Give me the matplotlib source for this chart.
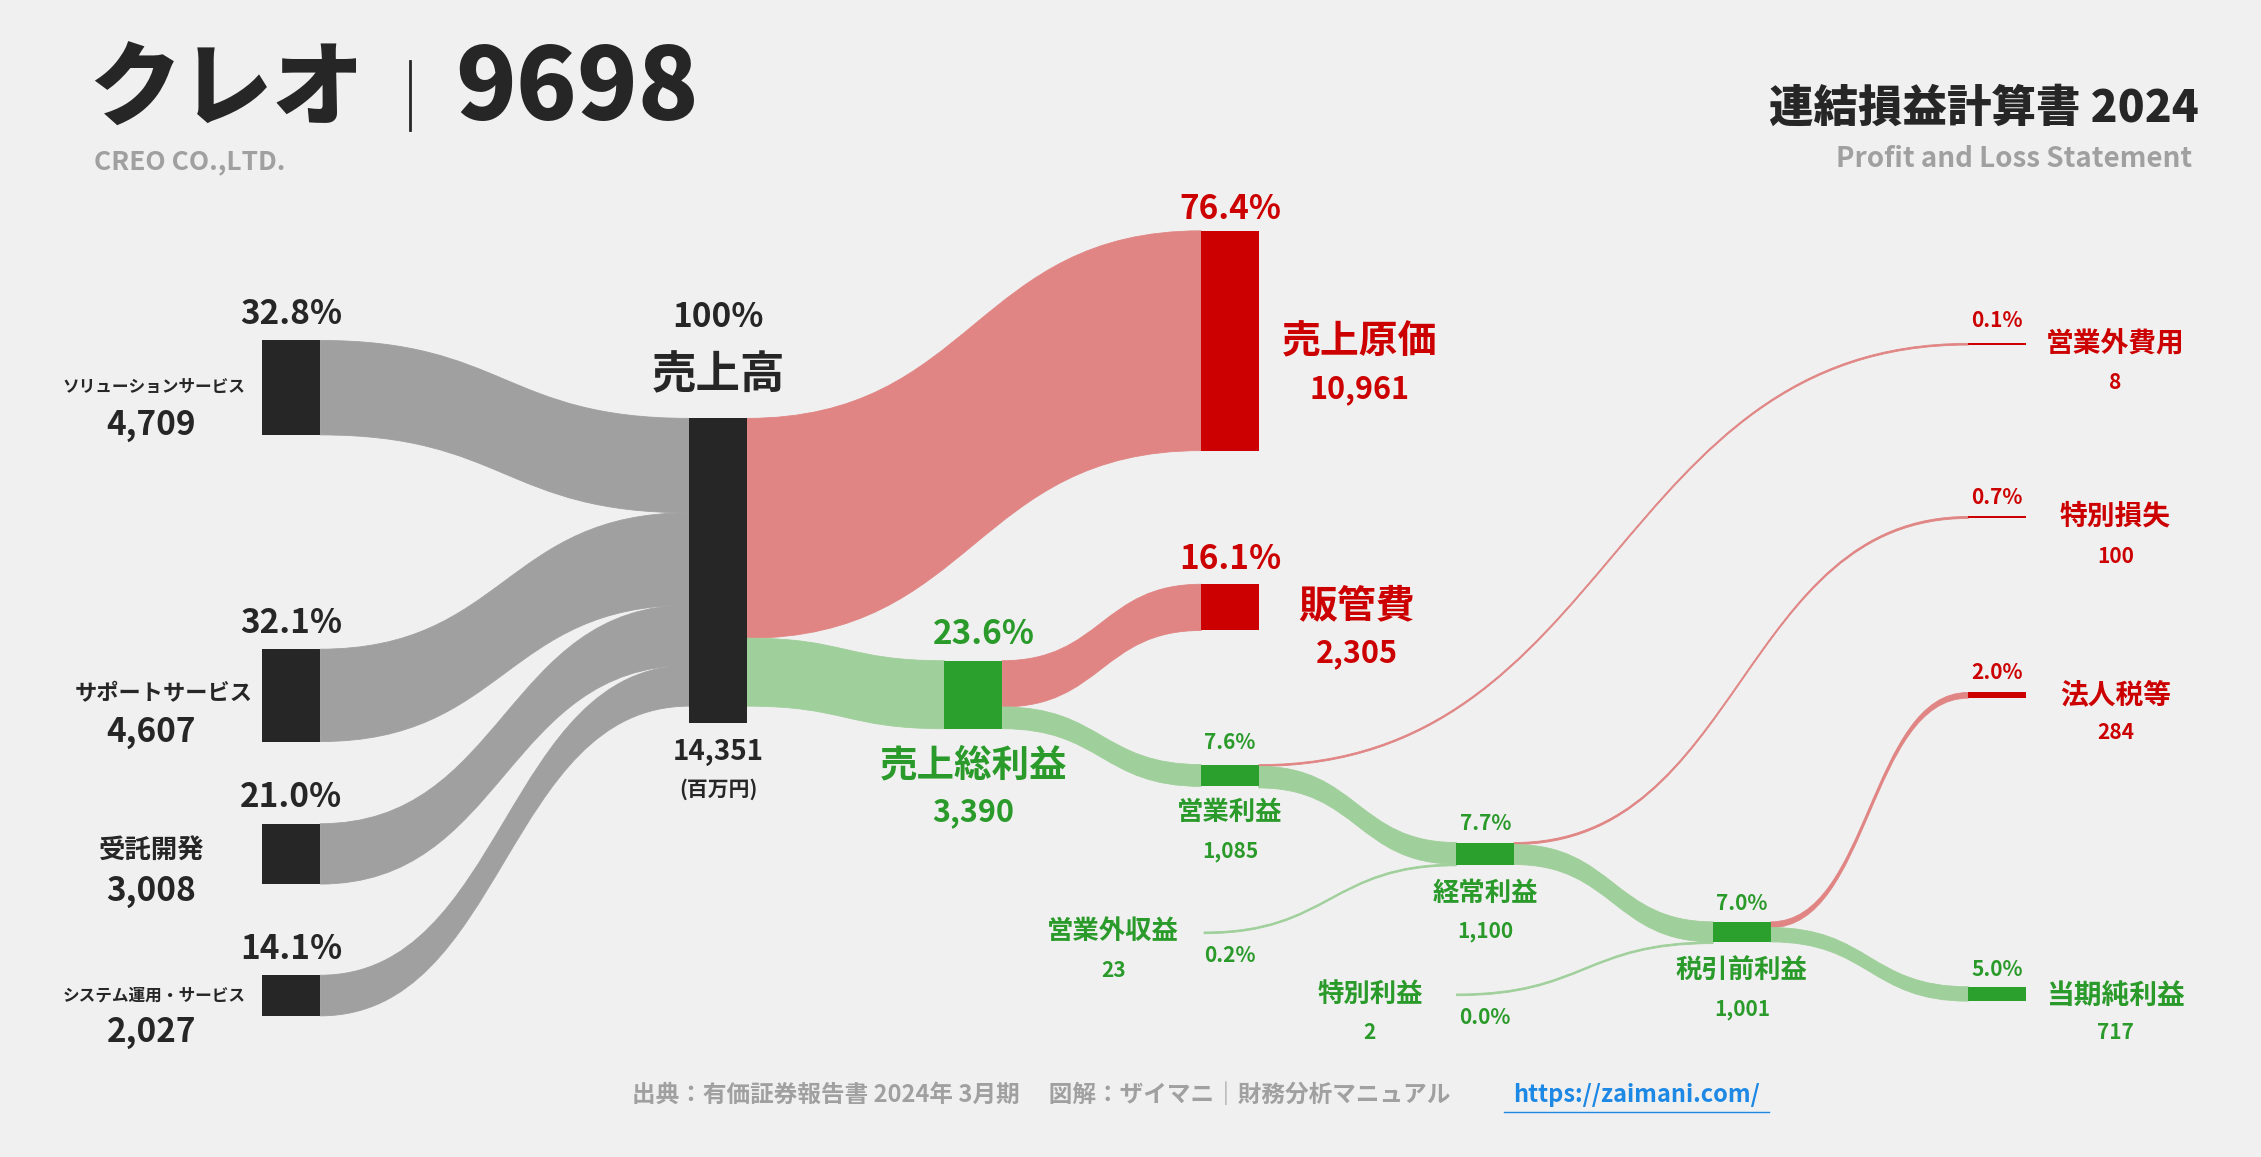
import matplotlib.pyplot as plt
from matplotlib.path import Path
from matplotlib.patches import PathPatch, Rectangle

plt.rcParams['font.family'] = ['Noto Sans CJK JP', 'DejaVu Sans']

# data (百万円)
segments = ['ソリューションサービス', 'サポートサービス', '受託開発', 'システム運用・サービス']
segment_values = [4709, 4607, 3008, 2027]
segment_pcts = ['32.8%', '32.1%', '21.0%', '14.1%']
revenue = 14351
cost_of_sales = 10961
sga = 2305
gross_profit = 3390
operating_profit = 1085
nonop_income = 23
nonop_expense = 8
ordinary_profit = 1100
special_income = 2
special_loss = 100
pretax_profit = 1001
income_tax = 284
net_profit = 717

BG = '#f0f0f0'
DARK = '#262626'
RED = '#cc0000'
RED_FLOW = '#e08584'
GREEN = '#2ca02c'
GREEN_FLOW = '#9fcf9a'
GRAY_FLOW = '#a0a0a0'
GREEN_TXT = '#2a9a2a'

S = 0.0139  # px per million yen
W = 40

fig = plt.figure(figsize=(22.61, 11.57), dpi=100, facecolor=BG)
ax = fig.add_axes([0, 0, 1, 1])
ax.set_xlim(0, 1568)
ax.set_ylim(802, 0)
ax.axis('off')
ax.set_facecolor(BG)


def h(v):
    return max(v * S, 1.2)


def node(x, y, v, color, extra=0):
    ax.add_patch(Rectangle((x, y), W, h(v) + extra, color=color, lw=0, zorder=3))


def band(x0, y0, x1, y1, v, color):
    t = h(v)
    xm = (x0 + x1) / 2
    verts = [(x0, y0), (xm, y0), (xm, y1), (x1, y1),
             (x1, y1 + t), (xm, y1 + t), (xm, y0 + t), (x0, y0 + t), (x0, y0)]
    codes = [Path.MOVETO, Path.CURVE4, Path.CURVE4, Path.CURVE4,
             Path.LINETO, Path.CURVE4, Path.CURVE4, Path.CURVE4, Path.CLOSEPOLY]
    ax.add_patch(PathPatch(Path(verts, codes), fc=color, ec=color, lw=0.6, zorder=2))


def txt(x, y, s, size, color=DARK, ha='center', weight='bold'):
    ax.text(x, y, s, fontsize=size, color=color, ha=ha, va='center', fontweight=weight)


# left segments -> revenue
seg_x = 182
seg_tops = [236, 450, 571, 676]
rev_x, rev_y = 478, 290
off = rev_y
for name, v, p, yt in zip(segments, segment_values, segment_pcts, seg_tops):
    node(seg_x, yt, v, DARK)
    band(seg_x + W, yt, rev_x, off, v, GRAY_FLOW)
    off += h(v)
    txt(seg_x + 20, yt - 18, p, 24)
node(rev_x, rev_y, revenue, DARK, extra=12)

txt(170, 268, segments[0], 12, ha='right')
txt(105, 295, '4,709', 24)
txt(175, 481, segments[1], 16, ha='right')
txt(105, 508, '4,607', 24)
txt(105, 590, segments[2], 19)
txt(105, 618, '3,008', 24)
txt(170, 690, segments[3], 12, ha='right')
txt(105, 716, '2,027', 24)

# revenue -> cost / gross
cost_x, cost_y = 833, 160
gp_x, gp_y = 655, 458
node(cost_x, cost_y, cost_of_sales, RED)
band(rev_x + W, rev_y, cost_x, cost_y, cost_of_sales, RED_FLOW)
band(rev_x + W, rev_y + h(cost_of_sales), gp_x, gp_y, gross_profit, GREEN_FLOW)
node(gp_x, gp_y, gross_profit, GREEN)

# gross -> sga / operating
sga_x, sga_y = 833, 405
op_x, op_y = 833, 530
node(sga_x, sga_y, sga, RED)
band(gp_x + W, gp_y, sga_x, sga_y, sga, RED_FLOW)
band(gp_x + W, gp_y + h(sga), op_x, op_y, operating_profit, GREEN_FLOW)
node(op_x, op_y, operating_profit, GREEN)

# operating -> nonop expense / ordinary ; nonop income -> ordinary
ne_x, ne_y = 1365, 238
ord_x, ord_y = 1010, 584
ni_x, ni_y = 795, 646
node(ne_x, ne_y, nonop_expense, RED)
band(op_x + W, op_y, ne_x, ne_y, nonop_expense, RED_FLOW)
band(op_x + W, op_y + h(nonop_expense), ord_x, ord_y, operating_profit - nonop_expense, GREEN_FLOW)
band(ni_x + W, ni_y, ord_x, ord_y + h(operating_profit - nonop_expense), nonop_income, GREEN_FLOW)
node(ord_x, ord_y, ordinary_profit, GREEN)

# ordinary -> special loss / pretax ; special income -> pretax
sl_x, sl_y = 1365, 358
pt_x, pt_y = 1188, 639
si_x, si_y = 970, 689
node(sl_x, sl_y, special_loss, RED)
band(ord_x + W, ord_y, sl_x, sl_y, special_loss, RED_FLOW)
band(ord_x + W, ord_y + h(special_loss), pt_x, pt_y, ordinary_profit - special_loss, GREEN_FLOW)
band(si_x + W, si_y, pt_x, pt_y + h(ordinary_profit - special_loss), special_income, GREEN_FLOW)
node(pt_x, pt_y, pretax_profit, GREEN)

# pretax -> tax / net
tax_x, tax_y = 1365, 480
net_x, net_y = 1365, 684
node(tax_x, tax_y, income_tax, RED)
band(pt_x + W, pt_y, tax_x, tax_y, income_tax, RED_FLOW)
band(pt_x + W, pt_y + h(income_tax), net_x, net_y, net_profit, GREEN_FLOW)
node(net_x, net_y, net_profit, GREEN)


def pct(v):
    return '%.1f%%' % (v / revenue * 100)


def fmt(v):
    return '{:,}'.format(v)


# labels
txt(498, 220, '100%', 24)
txt(498, 260, '売上高', 32)
txt(498, 521, fmt(revenue), 20)
txt(498, 547, '(百万円)', 15)

txt(853, 145, pct(cost_of_sales), 24, RED)
txt(943, 237, '売上原価', 28, RED)
txt(943, 270, fmt(cost_of_sales), 22, RED)

txt(853, 388, pct(sga), 24, RED)
txt(941, 420, '販管費', 28, RED)
txt(941, 453, fmt(sga), 22, RED)

txt(682, 440, pct(gross_profit), 24, GREEN_TXT)
txt(675, 530, '売上総利益', 27, GREEN_TXT)
txt(675, 563, fmt(gross_profit), 22, GREEN_TXT)

txt(853, 515, pct(operating_profit), 15, GREEN_TXT)
txt(853, 563, '営業利益', 19, GREEN_TXT)
txt(853, 590, fmt(operating_profit), 15, GREEN_TXT)

txt(1030, 571, '7.7%', 15, GREEN_TXT)
txt(1030, 619, '経常利益', 19, GREEN_TXT)
txt(1030, 646, fmt(ordinary_profit), 15, GREEN_TXT)

txt(1208, 626, pct(pretax_profit), 15, GREEN_TXT)
txt(1208, 673, '税引前利益', 19, GREEN_TXT)
txt(1208, 700, fmt(pretax_profit), 15, GREEN_TXT)

txt(1385, 672, pct(net_profit), 15, GREEN_TXT)
txt(1467, 690, '当期純利益', 20, GREEN_TXT)
txt(1467, 716, fmt(net_profit), 15, GREEN_TXT)

txt(1385, 466, pct(income_tax), 15, RED)
txt(1467, 482, '法人税等', 20, RED)
txt(1467, 508, fmt(income_tax), 15, RED)

txt(1385, 345, pct(special_loss), 15, RED)
txt(1467, 358, '特別損失', 20, RED)
txt(1467, 386, fmt(special_loss), 15, RED)

txt(1385, 222, pct(nonop_expense), 15, RED)
txt(1467, 238, '営業外費用', 20, RED)
txt(1467, 265, fmt(nonop_expense), 15, RED)

txt(772, 646, '営業外収益', 19, GREEN_TXT)
txt(772, 673, fmt(nonop_income), 15, GREEN_TXT)
txt(853, 662, pct(nonop_income), 15, GREEN_TXT)

txt(950, 689, '特別利益', 19, GREEN_TXT)
txt(950, 716, fmt(special_income), 15, GREEN_TXT)
txt(1030, 705, pct(special_income), 15, GREEN_TXT)

# header / footer
txt(62, 63, 'クレオ', 66, ha='left', weight='heavy')
ax.plot([284, 284], [42, 90], color=DARK, lw=2)
txt(316, 63, '9698', 72, ha='left', weight='heavy')
txt(65, 112, 'CREO CO.,LTD.', 19, '#a0a0a0', ha='left')
txt(1525, 75, '連結損益計算書 2024', 32, ha='right', weight='heavy')
txt(1520, 110, 'Profit and Loss Statement', 20, '#a0a0a0', ha='right')
txt(722, 759, '出典：有価証券報告書 2024年 3月期　 図解：ザイマニ｜財務分析マニュアル', 17, '#a0a0a0')
txt(1135, 759, 'https://zaimani.com/', 17, '#1e88e5')
ax.plot([1043, 1227], [771, 771], color='#1e88e5', lw=1)

fig.savefig('out.png', dpi=100, facecolor=BG)
